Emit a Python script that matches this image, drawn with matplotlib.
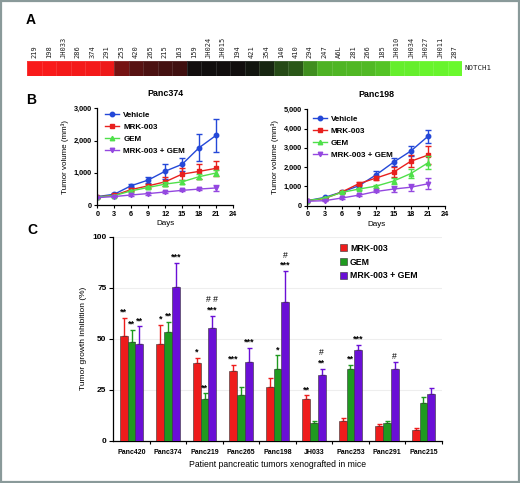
import numpy as np
import matplotlib
matplotlib.use("Agg")
import matplotlib.pyplot as plt
from matplotlib.colors import LinearSegmentedColormap, Normalize
from matplotlib.patches import Rectangle
from matplotlib.ticker import FuncFormatter

plt.rcParams['font.family'] = ['Liberation Sans', 'DejaVu Sans']
plt.rcParams['font.weight'] = 'bold'
plt.rcParams['axes.linewidth'] = 0.9

# ---- A: NOTCH1 expression strip ----
notch_ids = ["219", "198", "JH033", "286", "374", "291", "253", "420", "265", "215",
             "163", "159", "JH024", "JH015", "194", "421", "354", "140", "410", "294",
             "247", "A6L", "281", "266", "185", "JH010", "JH034", "JH027", "JH011", "287"]
notch_expr = [1.95, 1.95, 1.9, 1.9, 1.9, 1.85, 0.85, 0.6, 0.5, 0.45,
              0.42, 0.04, 0.03, 0.02, 0.02, -0.05, -0.2, -0.5, -0.6, -1.05,
              -1.35, -1.38, -1.4, -1.42, -1.5, -1.85, -1.85, -1.9, -1.9, -1.95]

# ---- B: tumor growth curves ----
days = [0, 3, 6, 9, 12, 15, 18, 21]
groups = ["Vehicle", "MRK-003", "GEM", "MRK-003 + GEM"]
p374_vehicle = [260, 335, 600, 775, 1050, 1265, 1780, 2165]
p374_vehicle_err = [30, 40, 50, 90, 230, 200, 420, 510]
p374_mrk = [250, 300, 480, 595, 720, 960, 1045, 1140]
p374_mrk_err = [25, 30, 40, 60, 140, 190, 230, 240]
p374_gem = [250, 290, 440, 545, 650, 720, 880, 995]
p374_gem_err = [25, 30, 40, 45, 60, 70, 80, 90]
p374_combo = [230, 262, 312, 355, 405, 455, 495, 530]
p374_combo_err = [20, 20, 25, 30, 30, 35, 40, 100]

p198_vehicle = [250, 420, 700, 1030, 1600, 2250, 2830, 3600]
p198_vehicle_err = [30, 40, 50, 100, 180, 220, 280, 350]
p198_mrk = [250, 360, 700, 1140, 1430, 1730, 2300, 2620]
p198_mrk_err = [30, 40, 50, 80, 100, 250, 300, 450]
p198_gem = [250, 380, 680, 855, 1010, 1270, 1660, 2220]
p198_gem_err = [30, 40, 50, 60, 80, 150, 250, 330]
p198_combo = [220, 250, 390, 540, 730, 855, 950, 1130]
p198_combo_err = [20, 25, 30, 40, 50, 140, 180, 280]

# ---- C: tumor growth inhibition ----
tumors = ["Panc420", "Panc374", "Panc219", "Panc265", "Panc198",
          "JH033", "Panc253", "Panc291", "Panc215"]
tgi_mrk = [51.3, 47.4, 38.2, 34.2, 26.1, 20.3, 9.8, 7.0, 5.2]
tgi_mrk_err = [9.0, 9.5, 2.3, 3.1, 4.8, 1.9, 1.5, 1.2, 1.0]
tgi_gem = [48.2, 53.4, 20.6, 22.4, 35.0, 8.7, 35.0, 8.5, 18.5]
tgi_gem_err = [6.0, 4.8, 2.6, 4.1, 6.8, 1.1, 2.3, 1.1, 2.8]
tgi_combo = [47.5, 75.3, 55.2, 38.7, 68.0, 32.4, 44.6, 35.3, 22.9]
tgi_combo_err = [8.5, 12.0, 6.0, 6.9, 15.2, 2.9, 2.3, 3.1, 3.1]
stars_mrk = ["**", "*", "*", "***", "", "**", "", "", ""]
stars_gem = ["**", "**", "**", "", "*", "", "**", "", ""]
stars_combo = ["**", "***", "***", "***", "***", "**", "***", "", ""]
hash_combo = ["", "", "# #", "", "#", "#", "", "#", ""]

W, H = 520, 483
fig = plt.figure(figsize=(W / 100, H / 100), dpi=100)


def box(x0, y0, x1, y1):
    # pixel box (top-left origin) -> figure fraction
    return [x0 / W, 1 - y1 / H, (x1 - x0) / W, (y1 - y0) / H]


# ---------------- A ----------------
axA = fig.add_axes(box(27, 61, 462, 76))
cmap = LinearSegmentedColormap.from_list(
    "rg", [(0, "#6cff2e"), (0.5, "#0e0e0e"), (1, "#ff1a1a")])
axA.pcolormesh(np.arange(len(notch_ids) + 1), [0, 1], np.array([notch_expr]),
               cmap=cmap, norm=Normalize(-2, 2), edgecolor=(1, 1, 1, 0.12), lw=0.4)
axA.set_xlim(0, len(notch_ids))
axA.set_ylim(0, 1)
axA.xaxis.tick_top()
axA.set_xticks(np.arange(len(notch_ids)) + 0.5)
axA.set_xticklabels(notch_ids, rotation=90, family="DejaVu Sans Mono",
                    fontsize=5.0, fontweight="normal", color="#222222")
axA.tick_params(axis="x", length=0, pad=2)
axA.set_yticks([])
for s in axA.spines.values():
    s.set_visible(False)
axA.text(1.006, 0.5, "NOTCH1", transform=axA.transAxes, ha="left", va="center",
         family="DejaVu Sans Mono", fontsize=5.4, fontweight="normal", color="#222222")

# ---------------- B ----------------
colors = ["#2448d8", "#e8201e", "#4fe04a", "#9448e0"]
markers = ["o", "s", "^", "v"]
thousands = FuncFormatter(lambda v, p: f"{v:,.0f}")


def growth(ax, title, series, errs, ymax, ystep, leg_anchor):
    for lab, y, e, c, m in zip(groups, series, errs, colors, markers):
        ax.errorbar(days, y, yerr=e, fmt="none", ecolor=c, elinewidth=1.0,
                    capsize=2.2, capthick=1.0)
        ax.plot(days, y, color=c, marker=m, ms=3.2, lw=1.0, label=lab)
    ax.set_xlim(0, 24)
    ax.set_ylim(0, ymax)
    ax.set_xticks(range(0, 25, 3))
    ax.set_yticks(range(0, ymax + 1, ystep))
    ax.yaxis.set_major_formatter(thousands)
    ax.spines[["top", "right"]].set_visible(False)
    ax.tick_params(labelsize=5.3, length=2.5, width=0.8, pad=1.5)
    ax.set_xlabel("Days", fontsize=5.8, labelpad=2)
    ax.set_ylabel("Tumor volume (mm³)", fontsize=5.8, labelpad=3)
    ax.set_title(title, fontsize=6.4, fontweight="bold", pad=9)
    ax.legend(loc="upper left", bbox_to_anchor=leg_anchor, frameon=False,
              fontsize=5.8, handlelength=1.7, handletextpad=0.5,
              labelspacing=0.55, borderpad=0, borderaxespad=0)


axB1 = fig.add_axes(box(97.3, 108.5, 233, 205))
growth(axB1, "Panc374",
       [p374_vehicle, p374_mrk, p374_gem, p374_combo],
       [p374_vehicle_err, p374_mrk_err, p374_gem_err, p374_combo_err],
       3000, 1000, (0.06, 0.97))

axB2 = fig.add_axes(box(307.3, 109.3, 445.3, 205.5))
growth(axB2, "Panc198",
       [p198_vehicle, p198_mrk, p198_gem, p198_combo],
       [p198_vehicle_err, p198_mrk_err, p198_gem_err, p198_combo_err],
       5000, 1000, (0.04, 0.94))

# ---------------- C ----------------
axC = fig.add_axes(box(113.3, 236.7, 441.7, 440.7))
bar_colors = ["#ee1c1c", "#1f9a1f", "#6a0fd6"]
bar_labels = ["MRK-003", "GEM", "MRK-003 + GEM"]
x = np.arange(len(tumors))
bw = 0.215
for k, (vals, errs, stars) in enumerate([(tgi_mrk, tgi_mrk_err, stars_mrk),
                                         (tgi_gem, tgi_gem_err, stars_gem),
                                         (tgi_combo, tgi_combo_err, stars_combo)]):
    xs = x + (k - 1) * bw
    c = bar_colors[k]
    axC.bar(xs, vals, bw, color=c, edgecolor="#333333", lw=0.4,
            label=bar_labels[k], zorder=3)
    axC.errorbar(xs, vals, yerr=[np.zeros(len(vals)), errs], fmt="none",
                 ecolor=c, elinewidth=1.0, capsize=1.8, capthick=1.0, zorder=2)
    for i in range(len(tumors)):
        top = vals[i] + errs[i]
        if stars[i]:
            axC.text(xs[i], top + 0.6, stars[i], ha="center", va="bottom",
                     fontsize=6.4, zorder=4)
        if k == 2 and hash_combo[i]:
            dy = 5.6 if stars[i] else 0.6
            axC.text(xs[i], top + dy, hash_combo[i], ha="center", va="bottom",
                     fontsize=6.2, fontweight="normal", zorder=4)

axC.set_xlim(-0.5, len(tumors) - 0.5)
axC.set_ylim(0, 100)
axC.set_yticks([0, 25, 50, 75, 100])
axC.yaxis.grid(True, color="#eeeeee", lw=0.8, zorder=0)
axC.set_xticks(x)
axC.set_xticklabels(tumors, fontsize=5.0)
axC.set_xticks(np.arange(len(tumors)) + 0.5, minor=True)
axC.tick_params(axis="x", which="major", length=0, pad=6)
axC.tick_params(axis="x", which="minor", length=2.5, width=0.8)
axC.tick_params(axis="y", labelsize=6, length=3, width=0.8, pad=2)
axC.spines[["top", "right"]].set_visible(False)
axC.set_ylabel("Tumor growth inhibition (%)", fontsize=6, labelpad=4)
axC.set_xlabel("Patient pancreatic tumors xenografted in mice", fontsize=6.2,
               labelpad=3)
axC.legend(loc="upper left", bbox_to_anchor=(0.69, 0.965), frameon=False,
           fontsize=6.3, handlelength=0.8, handleheight=0.8, handletextpad=0.35,
           labelspacing=0.55, borderpad=0, borderaxespad=0)

# panel letters
for lab, px, py in [("A", 31, 20), ("B", 31, 100), ("C", 32, 230)]:
    fig.text(px / W, 1 - py / H, lab, fontsize=10, fontweight="bold",
             ha="center", va="center")

# frame around the whole figure
fig.patches.append(Rectangle((0.001, 0.002), 0.997, 0.995, transform=fig.transFigure,
                             fill=False, edgecolor="#8a9a9a", lw=1.6))

fig.savefig("out.png", dpi=100)
